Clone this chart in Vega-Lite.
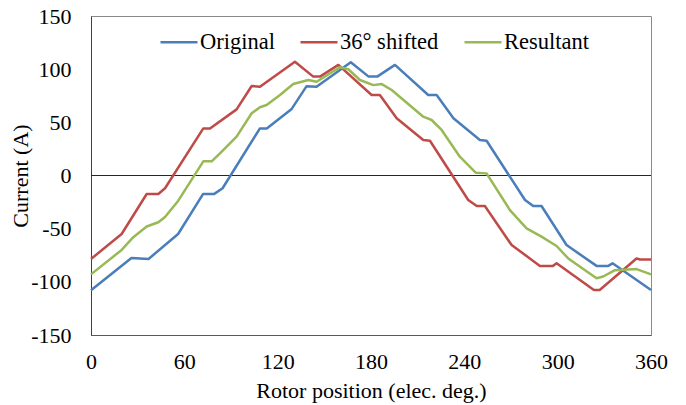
{
  "$schema": "https://vega.github.io/schema/vega-lite/v6.json",
  "width": 560,
  "height": 319,
  "autosize": {"type": "none"},
  "padding": {"left": 91, "top": 16, "right": 35, "bottom": 70},
  "background": "white",
  "config": {
    "view": {"stroke": "#8a8a8a", "strokeWidth": 1},
    "font": "Liberation Serif",
    "axis": {"labelFont": "Liberation Serif", "titleFont": "Liberation Serif", "labelColor": "#000", "titleColor": "#000", "titleFontWeight": "normal", "grid": false, "ticks": false, "tickSize": 0},
    "legend": {"labelFont": "Liberation Serif", "labelColor": "#000"}
  },
  "data": {"values": [
    {"deg": 0, "current": -108, "series": "Original"},
    {"deg": 26, "current": -77.5, "series": "Original"},
    {"deg": 37, "current": -78.5, "series": "Original"},
    {"deg": 56, "current": -55, "series": "Original"},
    {"deg": 72, "current": -17.5, "series": "Original"},
    {"deg": 79, "current": -17.5, "series": "Original"},
    {"deg": 84.6, "current": -12, "series": "Original"},
    {"deg": 108.6, "current": 44.3, "series": "Original"},
    {"deg": 113, "current": 44.3, "series": "Original"},
    {"deg": 129, "current": 62.6, "series": "Original"},
    {"deg": 138.6, "current": 84, "series": "Original"},
    {"deg": 145, "current": 83.5, "series": "Original"},
    {"deg": 167, "current": 106.5, "series": "Original"},
    {"deg": 178.5, "current": 93, "series": "Original"},
    {"deg": 184, "current": 93, "series": "Original"},
    {"deg": 195.4, "current": 104, "series": "Original"},
    {"deg": 216.8, "current": 75.7, "series": "Original"},
    {"deg": 222.2, "current": 75.7, "series": "Original"},
    {"deg": 233, "current": 53.8, "series": "Original"},
    {"deg": 250, "current": 33.4, "series": "Original"},
    {"deg": 254.3, "current": 32.7, "series": "Original"},
    {"deg": 279, "current": -23, "series": "Original"},
    {"deg": 284.3, "current": -28.7, "series": "Original"},
    {"deg": 289.6, "current": -28.7, "series": "Original"},
    {"deg": 305.7, "current": -65.4, "series": "Original"},
    {"deg": 325, "current": -85, "series": "Original"},
    {"deg": 332.5, "current": -85, "series": "Original"},
    {"deg": 335.3, "current": -82.6, "series": "Original"},
    {"deg": 360, "current": -107.7, "series": "Original"},

    {"deg": 0, "current": -78.5, "series": "36° shifted"},
    {"deg": 19.7, "current": -55, "series": "36° shifted"},
    {"deg": 35.8, "current": -17.4, "series": "36° shifted"},
    {"deg": 43.3, "current": -17.4, "series": "36° shifted"},
    {"deg": 47.6, "current": -12, "series": "36° shifted"},
    {"deg": 72.2, "current": 44.3, "series": "36° shifted"},
    {"deg": 76.5, "current": 44.3, "series": "36° shifted"},
    {"deg": 93.6, "current": 62.2, "series": "36° shifted"},
    {"deg": 103.3, "current": 84.2, "series": "36° shifted"},
    {"deg": 108.6, "current": 83.5, "series": "36° shifted"},
    {"deg": 131.1, "current": 107, "series": "36° shifted"},
    {"deg": 142.9, "current": 93, "series": "36° shifted"},
    {"deg": 147.2, "current": 93, "series": "36° shifted"},
    {"deg": 159, "current": 104, "series": "36° shifted"},
    {"deg": 180.4, "current": 75.7, "series": "36° shifted"},
    {"deg": 185.7, "current": 75.7, "series": "36° shifted"},
    {"deg": 196.5, "current": 53.8, "series": "36° shifted"},
    {"deg": 213.6, "current": 33.4, "series": "36° shifted"},
    {"deg": 217.9, "current": 32.7, "series": "36° shifted"},
    {"deg": 242.5, "current": -23, "series": "36° shifted"},
    {"deg": 248, "current": -28.7, "series": "36° shifted"},
    {"deg": 253.2, "current": -28.7, "series": "36° shifted"},
    {"deg": 270.4, "current": -65.4, "series": "36° shifted"},
    {"deg": 288.6, "current": -85, "series": "36° shifted"},
    {"deg": 297, "current": -85, "series": "36° shifted"},
    {"deg": 299.3, "current": -82.6, "series": "36° shifted"},
    {"deg": 323.3, "current": -107.7, "series": "36° shifted"},
    {"deg": 327, "current": -107.7, "series": "36° shifted"},
    {"deg": 350.7, "current": -78, "series": "36° shifted"},
    {"deg": 353, "current": -79, "series": "36° shifted"},
    {"deg": 360, "current": -79, "series": "36° shifted"},

    {"deg": 0, "current": -93, "series": "Resultant"},
    {"deg": 19.7, "current": -70, "series": "Resultant"},
    {"deg": 27.2, "current": -58, "series": "Resultant"},
    {"deg": 35.8, "current": -48, "series": "Resultant"},
    {"deg": 43.3, "current": -44, "series": "Resultant"},
    {"deg": 47.6, "current": -39, "series": "Resultant"},
    {"deg": 56.1, "current": -23.7, "series": "Resultant"},
    {"deg": 72.2, "current": 13.3, "series": "Resultant"},
    {"deg": 77.6, "current": 13.3, "series": "Resultant"},
    {"deg": 82.9, "current": 20.9, "series": "Resultant"},
    {"deg": 93.6, "current": 36.5, "series": "Resultant"},
    {"deg": 103.3, "current": 58.5, "series": "Resultant"},
    {"deg": 108.6, "current": 64.2, "series": "Resultant"},
    {"deg": 112.9, "current": 66.3, "series": "Resultant"},
    {"deg": 121.5, "current": 75.7, "series": "Resultant"},
    {"deg": 130, "current": 86, "series": "Resultant"},
    {"deg": 139.7, "current": 89.8, "series": "Resultant"},
    {"deg": 145, "current": 88.2, "series": "Resultant"},
    {"deg": 160, "current": 101.8, "series": "Resultant"},
    {"deg": 165.4, "current": 99.9, "series": "Resultant"},
    {"deg": 172.9, "current": 89.8, "series": "Resultant"},
    {"deg": 181.5, "current": 85, "series": "Resultant"},
    {"deg": 186.9, "current": 86, "series": "Resultant"},
    {"deg": 193.3, "current": 80.4, "series": "Resultant"},
    {"deg": 213.6, "current": 55.3, "series": "Resultant"},
    {"deg": 219, "current": 52.2, "series": "Resultant"},
    {"deg": 225.4, "current": 42.8, "series": "Resultant"},
    {"deg": 237.1, "current": 17.7, "series": "Resultant"},
    {"deg": 247.3, "current": 2.6, "series": "Resultant"},
    {"deg": 254.3, "current": 2, "series": "Resultant"},
    {"deg": 269.3, "current": -32.5, "series": "Resultant"},
    {"deg": 280, "current": -49.7, "series": "Resultant"},
    {"deg": 289.6, "current": -57.5, "series": "Resultant"},
    {"deg": 299.3, "current": -66.3, "series": "Resultant"},
    {"deg": 306.8, "current": -78, "series": "Resultant"},
    {"deg": 325, "current": -96.7, "series": "Resultant"},
    {"deg": 329.3, "current": -95, "series": "Resultant"},
    {"deg": 336.8, "current": -89, "series": "Resultant"},
    {"deg": 350.7, "current": -88, "series": "Resultant"},
    {"deg": 360, "current": -93, "series": "Resultant"}
  ]},
  "layer": [
    {
      "mark": {"type": "rule", "color": "#262626", "strokeWidth": 1},
      "encoding": {"y": {"datum": 0, "type": "quantitative", "scale": {"domain": [-150, 150]}}}
    },
    {
      "mark": {"type": "line", "strokeWidth": 2.5, "strokeJoin": "round"},
      "encoding": {
        "x": {"field": "deg", "type": "quantitative", "scale": {"domain": [0, 360], "nice": false},
              "axis": {"values": [0, 60, 120, 180, 240, 300, 360], "title": "Rotor position (elec. deg.)", "labelFontSize": 22, "titleFontSize": 22, "labelPadding": 16, "titlePadding": 8, "domainColor": "#595959", "domain": true, "labelFlush": false}},
        "y": {"field": "current", "type": "quantitative", "scale": {"domain": [-150, 150], "nice": false},
              "axis": {"values": [-150, -100, -50, 0, 50, 100, 150], "labelExpr": "datum.value < 0 ? '-' + abs(datum.value) : '' + datum.value", "title": "Current (A)", "labelFontSize": 22, "titleFontSize": 22, "labelPadding": 20, "titleX": -59, "titleY": 159.5, "titleAlign": "center", "titleBaseline": "bottom", "titleAngle": -90, "domainColor": "#404040", "domain": true}},
        "color": {"field": "series", "type": "nominal",
                  "scale": {"domain": ["Original", "36° shifted", "Resultant"], "range": ["#4A7EBB", "#BE4B48", "#98B954"]},
                  "legend": {"title": null, "orient": "none", "direction": "horizontal", "legendX": 68, "legendY": 6, "symbolType": "stroke", "symbolSize": 1369, "symbolStrokeWidth": 2.5, "labelFontSize": 22.5, "labelOffset": 1, "columnPadding": 20}},
        "order": {"field": "deg", "type": "quantitative"}
      }
    }
  ]
}
